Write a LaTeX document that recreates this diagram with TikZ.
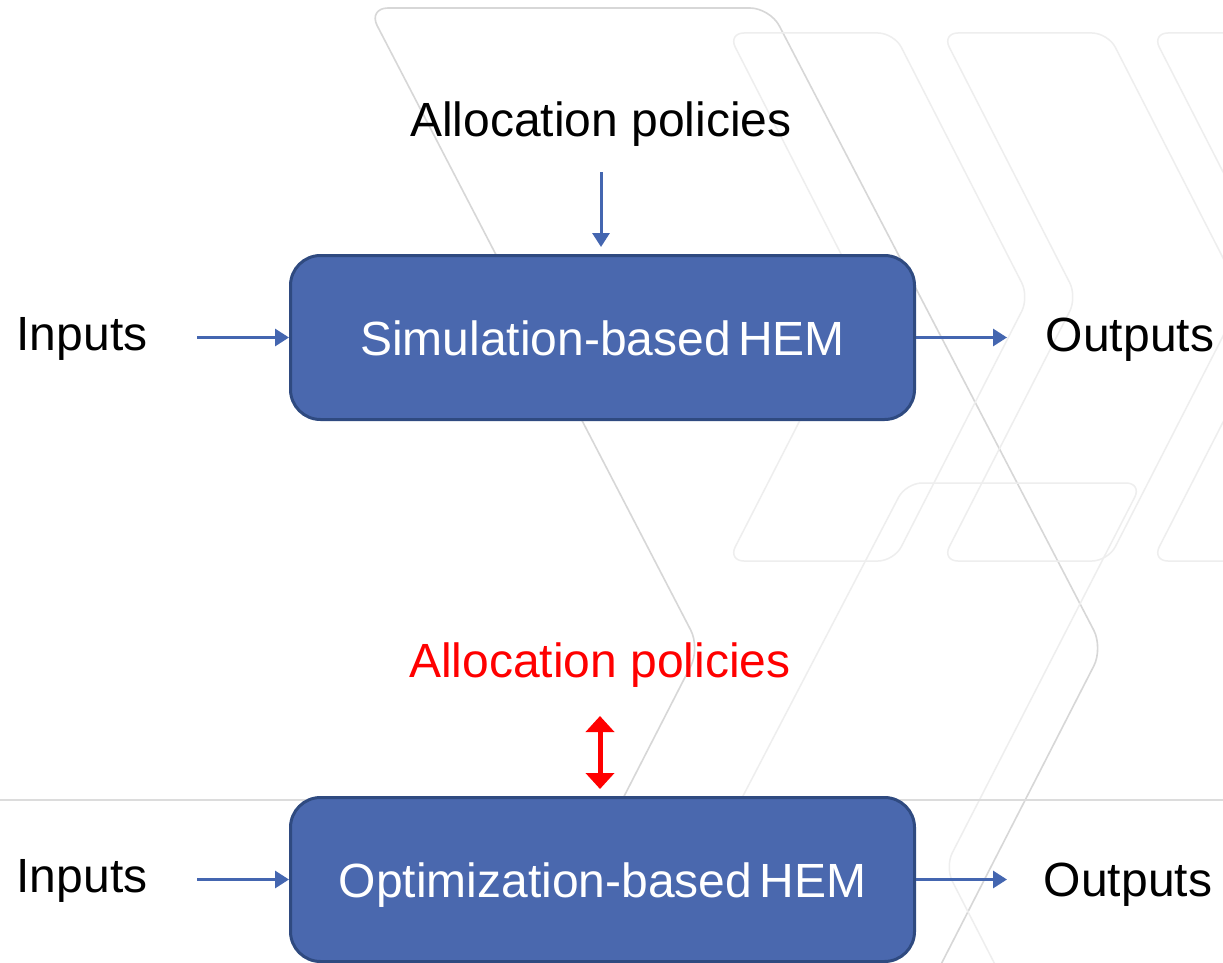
\documentclass[tikz,border=0pt]{standalone}
\usepackage{fontspec}
\setmainfont{Liberation Sans}
\usetikzlibrary{arrows.meta}
\definecolor{boxfill}{RGB}{74,104,174}
\definecolor{boxdraw}{RGB}{47,74,128}
\definecolor{arrblue}{RGB}{68,102,176}
\definecolor{bgline}{RGB}{238,238,238}
\definecolor{bglinedark}{RGB}{215,215,215}
\definecolor{sepline}{RGB}{220,220,220}
\begin{document}
\begin{tikzpicture}[x=1pt,y=-1pt,
  hembox/.style={draw=boxdraw, line width=3pt, fill=boxfill, rounded corners=30pt,
    minimum width=624pt, minimum height=164pt, inner sep=0pt, text=white,
    text height=35pt, text depth=0pt, font=\fontsize{48}{58}\selectfont},
  lbl/.style={anchor=base, inner sep=0pt, font=\fontsize{48}{58}\selectfont},
  bluearrow/.style={draw=arrblue, line width=3pt, -{Triangle[length=14pt,width=17pt]}},
  redarrow/.style={draw=red, line width=5pt,
    {Triangle[length=16pt,width=28pt]}-{Triangle[length=16pt,width=28pt]}},
  bgshape/.style={draw=bgline, line width=1.5pt, rounded corners=16pt},
  bigshape/.style={draw=bglinedark, line width=1.6pt, rounded corners=20pt}
]
\useasboundingbox (0,0) rectangle (1223,963);
\fill[white] (0,0) rectangle (1223,963);

% background template pattern
\begin{scope}
\clip (0,0) rectangle (1223,963);
\draw[bigshape] (530,980) -- (700,648) -- (368,8) -- (770,8) -- (1103,648) -- (933,980);
\foreach \x in {728,942,1152}{
  \draw[bgshape] (\x,33) -- (\x+166,33) -- (\x+301,297) -- (\x+166,561) -- (\x,561) -- (\x+135,297) -- cycle;
}
\draw[bgshape] (906,483) -- (1142,483) -- (945,867) -- (1142,1251) -- (906,1251) -- (706,867) -- cycle;
\draw[draw=sepline, line width=2.5pt] (0,800) -- (1223,800);
\end{scope}

% boxes
\node[hembox] (box1) at (602.5,337.5) {Simulation-based\hspace{0.15em}HEM};
\node[hembox] (box2) at (602.5,879.5) {Optimization-based\hspace{0.15em}HEM};

% labels
\node[lbl] (alloc1) at (601,136) {Allocation policies};
\node[lbl] (in1) at (82,350) {Inputs};
\node[lbl] (out1) at (1130,351) {Outputs};
\node[lbl, text=red] (alloc2) at (600,677) {Allocation policies};
\node[lbl] (in2) at (82,892) {Inputs};
\node[lbl] (out2) at (1128,896) {Outputs};

% connector end points
\coordinate (d1a) at (601,172);
\coordinate (d1b) at (601,247);
\coordinate (i1) at (197,337.5);
\coordinate (o1) at (1007,337.5);
\coordinate (r1) at (600,716);
\coordinate (r2) at (600,789);
\coordinate (i2) at (197,879.5);
\coordinate (o2) at (1007,879.5);

% connectors
\draw[bluearrow] (d1a) -- (d1b);
\draw[bluearrow] (i1) -- (box1.west);
\draw[bluearrow] (box1.east) -- (o1);
\draw[redarrow] (r1) -- (r2);
\draw[bluearrow] (i2) -- (box2.west);
\draw[bluearrow] (box2.east) -- (o2);
\end{tikzpicture}
\end{document}
